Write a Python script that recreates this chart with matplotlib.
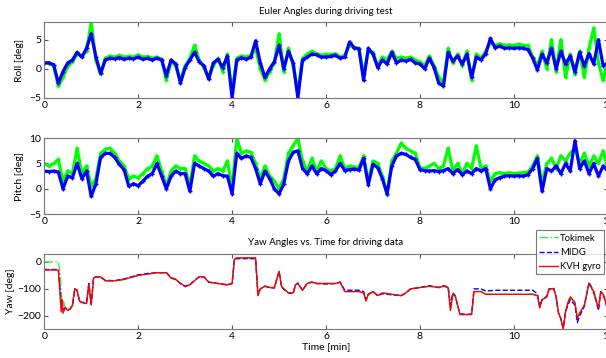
import numpy as np
import matplotlib.pyplot as plt

plt.rcParams['font.family'] = ['Lato', 'DejaVu Sans']

# sampling grid for roll / pitch (min)
t_rp = np.linspace(0, 12, 121)

roll_midg = [1.0, 1.0, 0.7, -2.5, -0.5, 1.0, 1.5, 2.8, 2.0, 3.5,
             6.0, 2.0, -0.8, 1.5, 1.8, 1.7, 1.9, 1.6, 1.8, 1.7,
             2.0, 1.6, 1.8, 1.5, 1.8, 1.5, -1.2, 1.5, 0.8, -2.5,
             0.2, 1.5, 2.8, 1.2, 0.5, -1.8, 1.0, 1.6, 0.2, 2.2,
             -5.0, 1.5, 1.9, 1.6, 2.0, 4.8, 1.0, -1.5, 0.0, 1.2,
             4.0, 0.0, 3.0, 1.0, -5.0, 1.5, 2.0, 2.5, 2.4, 2.0,
             2.0, 2.1, 2.3, 1.8, 2.0, 4.6, 3.6, 3.4, -2.0, 3.5,
             2.5, 0.2, 1.5, 0.8, 2.8, 1.0, 1.5, 1.3, 1.6, 1.0,
             0.8, 0.0, 1.8, 0.2, -2.5, -3.0, 2.8, 1.3, 2.2, 0.8,
             2.5, -1.5, 2.0, 1.5, 2.6, 5.2, 3.6, 3.9, 3.5, 3.6,
             3.5, 3.6, 3.5, 3.3, 1.8, -0.2, 2.5, 1.0, 3.5, 0.0,
             3.0, 0.8, 2.2, -0.5, 2.8, 0.5, 2.6, 0.8, 5.0, 0.5,
             1.0]
roll_tokimek = [1.0, 1.0, 0.5, -3.0, -1.5, 0.5, 1.2, 2.5, 2.2, 3.0,
                8.0, 1.5, -1.0, 1.8, 2.2, 2.0, 2.3, 2.0, 2.1, 2.0,
                2.4, 2.0, 2.1, 1.8, 2.0, 1.6, -2.0, 1.2, 0.5, -2.0,
                0.5, 1.8, 4.0, 1.5, 0.2, -1.5, 0.5, 1.8, -0.5, 2.5,
                -4.0, 1.8, 2.2, 2.0, 2.3, 3.5, 0.0, -2.0, -0.5, 1.0,
                6.0, -0.5, 3.5, 0.5, -4.0, 1.8, 2.5, 3.0, 2.6, 2.3,
                2.5, 2.4, 2.6, 2.0, 2.3, 4.0, 3.6, 3.5, -1.0, 3.0,
                2.8, 0.5, 2.0, 1.5, 3.0, 1.8, 2.0, 1.8, 2.0, 1.5,
                1.2, 0.5, 2.2, 0.5, -1.5, -2.5, 3.5, 1.0, 2.5, 0.5,
                3.0, -2.0, 2.5, 1.8, 3.0, 4.5, 4.0, 4.3, 4.0, 4.1,
                4.0, 4.2, 4.0, 4.0, 2.0, 0.5, 3.0, 0.0, 5.0, -0.5,
                5.0, -1.5, 2.5, -1.0, 3.0, -1.5, 3.5, 7.0, 1.0, -2.0,
                1.5]

pitch_midg = [3.5, 3.4, 3.5, 3.3, 0.0, 2.5, 2.2, 5.0, 2.0, 3.5,
              -1.5, 1.0, 6.2, 7.0, 7.0, 6.2, 4.8, 3.8, 0.5, 1.0,
              0.6, 1.5, 2.5, 3.0, 5.0, 2.5, 0.0, 2.5, 3.5, 3.0,
              3.0, -0.5, 5.0, 4.5, 4.0, 3.5, 2.5, 3.0, 2.6, 2.5,
              -1.0, 7.0, 6.0, 6.5, 6.2, 4.0, 1.0, 3.5, 2.0, 0.0,
              -1.0, 1.0, 5.5, 7.2, 7.5, 4.0, 3.0, 4.5, 3.0, 4.0,
              3.6, 2.8, 3.5, 5.0, 3.6, 3.8, 3.9, 3.7, 6.0, 0.8,
              4.8, 4.2, 2.0, -1.0, 4.5, 6.5, 7.0, 6.8, 6.2, 5.8,
              3.8, 3.6, 3.5, 3.6, 3.4, 3.6, 4.0, 3.0, 3.8, 2.8,
              3.5, 3.0, 4.0, 3.5, 4.0, 0.0, 1.8, 2.2, 2.5, 2.6,
              2.5, 2.6, 2.5, 2.8, 4.0, 6.0, -0.5, 4.0, 3.5, 4.5,
              3.0, 5.0, 3.5, 9.5, 4.0, 5.5, 3.0, 5.0, 2.5, 4.5,
              3.5]
pitch_tokimek = [5.0, 4.5, 5.0, 5.8, 1.5, 3.5, 3.0, 8.0, 3.0, 4.5,
                 0.5, 2.0, 7.0, 7.8, 8.0, 7.0, 5.5, 4.5, 2.0, 2.5,
                 2.2, 3.0, 4.0, 4.5, 6.5, 3.5, 0.5, 3.5, 4.5, 4.0,
                 4.0, 0.5, 6.5, 5.5, 5.0, 4.5, 3.5, 4.0, 3.5, 5.5,
                 0.0, 10.0, 7.0, 7.5, 7.2, 5.0, 2.0, 4.5, 2.5, 1.5,
                 0.0, 2.0, 7.0, 8.5, 10.0, 5.5, 3.5, 6.0, 3.5, 5.5,
                 4.0, 3.5, 4.0, 6.5, 4.0, 4.5, 4.3, 4.2, 6.5, 1.5,
                 5.5, 5.0, 2.5, -1.2, 5.5, 7.0, 9.0, 8.0, 7.5, 7.0,
                 4.2, 4.0, 4.5, 5.0, 4.0, 4.5, 8.0, 3.5, 5.0, 3.0,
                 5.0, 4.0, 8.5, 4.0, 4.5, 1.5, 3.0, 3.2, 3.0, 3.2,
                 3.0, 3.1, 3.2, 3.3, 4.5, 6.5, 1.0, 5.0, 6.0, 4.0,
                 6.5, 5.5, 7.0, 8.0, 5.0, 7.0, 4.5, 6.5, 5.0, 7.5,
                 4.0]

yaw_t = [0, 0.3, 0.33, 0.36, 0.38, 0.4, 0.45, 0.5, 0.55, 0.6,
         0.65, 0.7, 0.75, 0.8, 0.9, 0.95, 1.0, 1.05, 1.1, 1.2,
         1.3, 1.5, 1.7, 1.8, 2.0, 2.2, 2.4, 2.6, 2.7, 2.8,
         2.9, 3.0, 3.1, 3.2, 3.3, 3.4, 3.5, 3.7, 3.9, 4.0,
         4.05, 4.1, 4.3, 4.5, 4.55, 4.6, 4.7, 4.8, 4.9, 5.0,
         5.05, 5.1, 5.2, 5.3, 5.35, 5.4, 5.5, 5.6, 5.7, 5.8,
         6.0, 6.2, 6.3, 6.4, 6.5, 6.7, 6.8, 6.85, 6.9, 7.0,
         7.1, 7.2, 7.4, 7.6, 7.7, 7.8, 8.0, 8.2, 8.4, 8.5,
         8.6, 8.65, 8.7, 8.75, 8.85, 9.0, 9.1, 9.15, 9.3, 9.4,
         9.6, 10.0, 10.4, 10.5, 10.55, 10.6, 10.7, 10.75, 10.85, 10.9,
         10.95, 11.0, 11.05, 11.1, 11.15, 11.2, 11.3, 11.35, 11.4, 11.5,
         11.6, 11.7, 11.8, 11.85, 11.9, 12.0]
yaw_kvh = [-30, -30, -100, -185, -140, -190, -170, -180, -175, -160,
           -100, -105, -145, -150, -155, -80, -160, -60, -55, -55,
           -70, -70, -65, -60, -50, -45, -40, -40, -60, -65,
           -80, -90, -85, -70, -55, -55, -75, -80, -85, -80,
           10, 15, 15, 15, -125, -100, -90, -95, -95, -35,
           -90, -100, -115, -115, -85, -80, -105, -80, -75, -80,
           -80, -80, -75, -110, -110, -110, -115, -145, -120, -110,
           -125, -115, -120, -125, -115, -100, -95, -90, -95, -90,
           -95, -180, -120, -125, -195, -195, -195, -110, -110, -120,
           -120, -120, -120, -125, -170, -140, -130, -100, -100, -130,
           -190, -210, -250, -185, -150, -130, -150, -210, -190, -160,
           -80, -110, -170, -110, -120, -170]
yaw_midg = [-28, -28, -90, -150, -140, -175, -170, -178, -175, -160,
            -100, -105, -145, -150, -152, -80, -155, -60, -55, -57,
            -68, -70, -63, -58, -48, -43, -40, -40, -58, -65,
            -80, -92, -85, -68, -55, -55, -75, -80, -85, -80,
            12, 12, 12, 12, -120, -100, -90, -95, -97, -35,
            -90, -102, -115, -118, -85, -78, -105, -78, -75, -80,
            -82, -80, -75, -105, -105, -105, -110, -140, -120, -110,
            -125, -118, -122, -125, -115, -100, -95, -88, -95, -88,
            -93, -160, -115, -125, -192, -195, -193, -100, -100, -108,
            -105, -105, -105, -118, -165, -140, -128, -100, -98, -130,
            -190, -210, -245, -185, -160, -140, -160, -225, -200, -165,
            -75, -110, -180, -110, -120, -180]
yaw_tokimek = [0, 0, -30, -100, -150, -140, -170, -178, -172, -165,
               -100, -105, -145, -150, -155, -80, -158, -60, -55, -55,
               -70, -70, -65, -60, -50, -45, -40, -40, -60, -65,
               -80, -90, -85, -70, -55, -55, -75, -80, -85, -80,
               10, 15, 15, 15, -125, -100, -90, -95, -95, -35,
               -90, -100, -115, -115, -85, -80, -105, -80, -75, -80,
               -80, -80, -75, -110, -110, -110, -115, -140, -120, -110,
               -125, -115, -120, -125, -115, -100, -95, -90, -95, -90,
               -95, -175, -120, -125, -195, -195, -195, -110, -110, -120,
               -120, -120, -120, -125, -170, -140, -130, -100, -100, -130,
               -190, -210, -245, -185, -150, -130, -150, -210, -190, -160,
               -80, -120, -175, -110, -120, -170]

green = '#00ff00'
blue = '#0000ff'
red = '#ff0000'

fig = plt.figure(figsize=(6.06, 3.58), dpi=100)
left, width = 0.073, 0.93
ax1 = fig.add_axes([left, 0.727, width, 0.211])
ax2 = fig.add_axes([left, 0.402, width, 0.212])
ax3 = fig.add_axes([left, 0.080, width, 0.211])

# roll / pitch: dense point clouds, tokimek under midg
for ax, tok, midg in [(ax1, roll_tokimek, roll_midg), (ax2, pitch_tokimek, pitch_midg)]:
    ax.plot(t_rp, tok, color=green, marker='+', ms=3, mew=1, lw=2.3)
    ax.plot(t_rp, midg, color=blue, marker='+', ms=3, mew=1, lw=2.3)

ax3.plot(yaw_t, yaw_tokimek, color='#33ee33', ls='-.', lw=1, label='Tokimek')
ax3.plot(yaw_t, yaw_midg, color=blue, ls='--', lw=1, label='MIDG')
ax3.plot(yaw_t, yaw_kvh, color=red, ls='-', lw=1, label='KVH gyro')

ax1.set_ylim(-5, 8)
ax1.set_yticks([-5, 0, 5])
ax2.set_ylim(-5, 10)
ax2.set_yticks([-5, 0, 5, 10])
ax3.set_ylim(-250, 30)
ax3.set_yticks([-200, -100, 0])

ax1.set_ylabel('Roll [deg]', fontsize=7.5, labelpad=4)
ax2.set_ylabel('Pitch [deg]', fontsize=7.5, labelpad=4)
ax3.set_ylabel('Yaw [deg]', fontsize=7.5, labelpad=2)
ax3.set_xlabel('Time [min]', fontsize=7.5, labelpad=1)
ax1.set_title('Euler Angles during driving test', fontsize=7, pad=6)
ax3.set_title('Yaw Angles vs. Time for driving data', fontsize=7, pad=6)

for ax in (ax1, ax2, ax3):
    ax.set_xlim(0, 12)
    ax.set_xticks([0, 2, 4, 6, 8, 10, 12])
    ax.tick_params(direction='in', top=True, right=True, length=3,
                   labelsize=7.5, color='#555555', pad=2)
    for s in ax.spines.values():
        s.set_color('#777777')
        s.set_linewidth(0.8)

leg = ax3.legend(loc='upper left', bbox_to_anchor=(0.872, 1.31), fontsize=6.8,
                 frameon=True, fancybox=False, edgecolor='#555555',
                 handlelength=2.0, borderpad=0.35, labelspacing=0.55,
                 handletextpad=0.2, borderaxespad=0)
leg.get_frame().set_linewidth(0.8)

fig.savefig('out.png', dpi=100)
